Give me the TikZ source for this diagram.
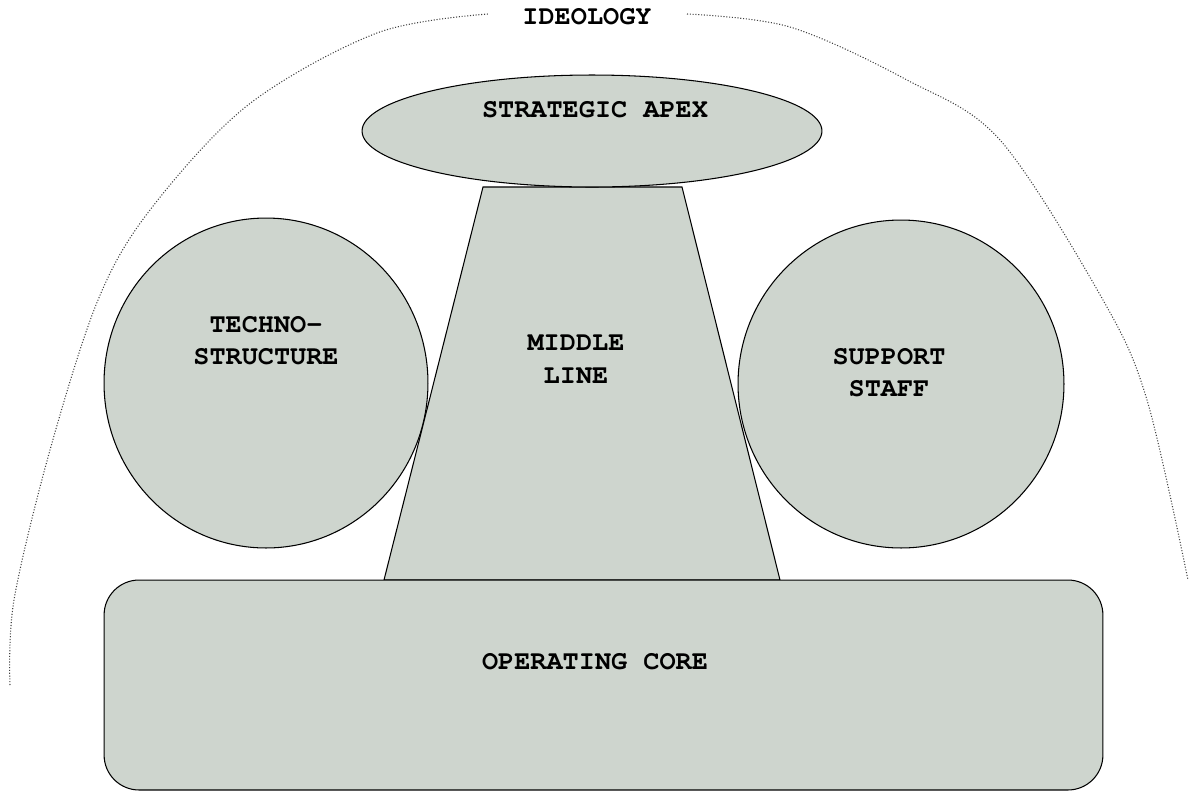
\documentclass[tikz,border=0pt]{standalone}
\usepackage[T1]{fontenc}
\usepackage{courier}
\usetikzlibrary{shapes.geometric,positioning}
\definecolor{partgray}{RGB}{206,213,206}

\begin{document}
\begin{tikzpicture}[x=0.02cm, y=-0.02cm]
	\tikzset{every node/.style={font=\fontsize{15.3}{18.5}\selectfont\ttfamily\bfseries, align=center}}
	\tikzstyle{part}=[draw, line width=0.6pt, fill=partgray, inner sep=0pt]
	\tikzstyle{bound}=[densely dotted, gray!50!black, line width=0.6pt]
	\useasboundingbox (0,0) rectangle (1190,792);
	% ideology
	\node (ideology) at (587,17) {IDEOLOGY};
	\draw [bound] plot[smooth, tension=0.55] coordinates {(10,685) (14,600) (50,450) (98,300) (150,210) (248,105) (377,33) (488,14)};
	\draw [bound] plot[smooth, tension=0.55] coordinates {(687,14) (790,27) (907,80) (1000,140) (1103,300) (1147,400) (1188,580)};
	% side parts
	\node [part, ellipse, minimum width=6.48cm, minimum height=6.6cm] (techno) at (266,383) {};
	\node [part, ellipse, minimum width=6.52cm, minimum height=6.56cm] (support) at (901,384) {};
	% middle line
	\draw [line width=0.6pt, fill=partgray] (483,187) -- (682,187) -- (780,580) -- (384,580) -- cycle;
	% operating core and apex
	\node [part, rectangle, rounded corners=0.7cm, minimum width=19.98cm, minimum height=4.2cm] (core) at (603.5,685) {};
	\node [part, ellipse, minimum width=9.2cm, minimum height=2.24cm] (apex) at (592,131) {};
	% labels
	\node (apexlbl) at (595,110) {STRATEGIC APEX};
	\node (technolbl) at (266,341) {TECHNO-\\STRUCTURE};
	\node (middlelbl) at (576,360) {MIDDLE\\LINE};
	\node (supportlbl) at (889,373) {SUPPORT\\STAFF};
	\node (corelbl) at (595,662) {OPERATING CORE};
\end{tikzpicture}
\end{document}
